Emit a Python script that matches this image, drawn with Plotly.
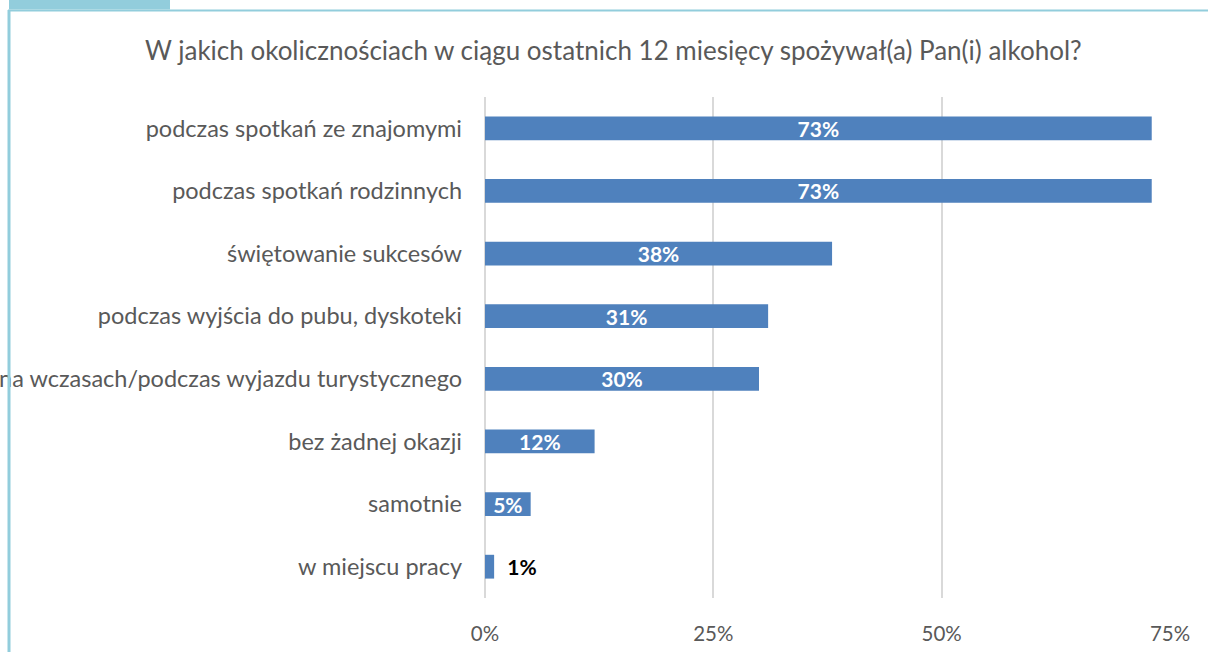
import plotly.graph_objects as go

categories = [
    "podczas spotkań ze znajomymi",
    "podczas spotkań rodzinnych",
    "świętowanie sukcesów",
    "podczas wyjścia do pubu, dyskoteki",
    "na wczasach/podczas wyjazdu turystycznego",
    "bez żadnej okazji",
    "samotnie",
    "w miejscu pracy",
]
values = [73, 73, 38, 31, 30, 12, 5, 1]
tick_vals = [0, 25, 50, 75]
tick_text = ["0%", "25%", "50%", "75%"]
title_text = "W jakich okolicznościach w ciągu ostatnich 12 miesięcy spożywał(a) Pan(i) alkohol?"

FONT = "Lato"
GRAY = "#595959"
BAR = "#4F81BD"
FRAME = "#92CDDC"

# plot area in pixels
X0, X1, Y0, Y1 = 485, 1170, 97, 598
def px(x):
    return (x - X0) / (X1 - X0)
def py(y):
    return (Y1 - y) / (Y1 - Y0)

positions = ["inside" if v >= 3 else "outside" for v in values]
text_colors = ["white" if v >= 3 else "black" for v in values]
labels = [f"{v}%" if v >= 3 else f"  {v}%" for v in values]

fig = go.Figure(go.Bar(
    y=categories,
    x=values,
    orientation="h",
    marker=dict(color=BAR, line=dict(width=0)),
    text=labels,
    textposition=positions,
    insidetextanchor="middle",
    textangle=0,
    constraintext="none",
    textfont=dict(family=FONT, size=21, color=text_colors, weight="bold"),
    cliponaxis=False,
    hoverinfo="skip",
))

fig.update_layout(
    width=1208, height=652,
    margin=dict(l=X0, r=1208 - X1, t=Y0, b=652 - Y1, pad=0, autoexpand=False),
    paper_bgcolor="white",
    plot_bgcolor="white",
    bargap=0.62,
    showlegend=False,
    font=dict(family=FONT, color=GRAY, size=19),
    xaxis=dict(
        range=[0, 75],
        tickvals=tick_vals,
        ticktext=tick_text,
        showgrid=True,
        gridcolor="#D9D9D9",
        gridwidth=2,
        zeroline=False,
        showline=False,
        ticks="",
        ticklabelstandoff=21,
        automargin=False,
        tickfont=dict(family=FONT, size=20.5, color=GRAY),
        fixedrange=True,
    ),
    yaxis=dict(
        autorange="reversed",
        showgrid=False,
        zeroline=False,
        showline=False,
        ticks="",
        ticklabelstandoff=22,
        automargin=False,
        tickfont=dict(family=FONT, size=23.5, color=GRAY),
        fixedrange=True,
    ),
    shapes=[
        dict(type="rect", xref="paper", yref="paper",
             x0=px(9), x1=px(170), y0=py(0), y1=py(9.5),
             fillcolor=FRAME, line=dict(width=0), layer="above"),
        dict(type="line", xref="paper", yref="paper",
             x0=px(8), x1=px(1208), y0=py(10.5), y1=py(10.5),
             line=dict(color=FRAME, width=2)),
        dict(type="line", xref="paper", yref="paper",
             x0=px(9), x1=px(9), y0=py(10), y1=py(652),
             line=dict(color=FRAME, width=3)),
        dict(type="line", xref="paper", yref="paper",
             x0=0, x1=0, y0=0, y1=1,
             line=dict(color="#D9D9D9", width=2), layer="below"),
    ],
    annotations=[
        dict(text=title_text, xref="paper", yref="paper",
             x=px(613.5), y=py(50), xanchor="center", yanchor="middle",
             showarrow=False, font=dict(family=FONT, size=26, color=GRAY)),
    ],
)

fig.write_html(
    "out.html",
    config={"displayModeBar": False},
    post_script="document.body.style.margin='0';document.body.style.padding='0';",
)
